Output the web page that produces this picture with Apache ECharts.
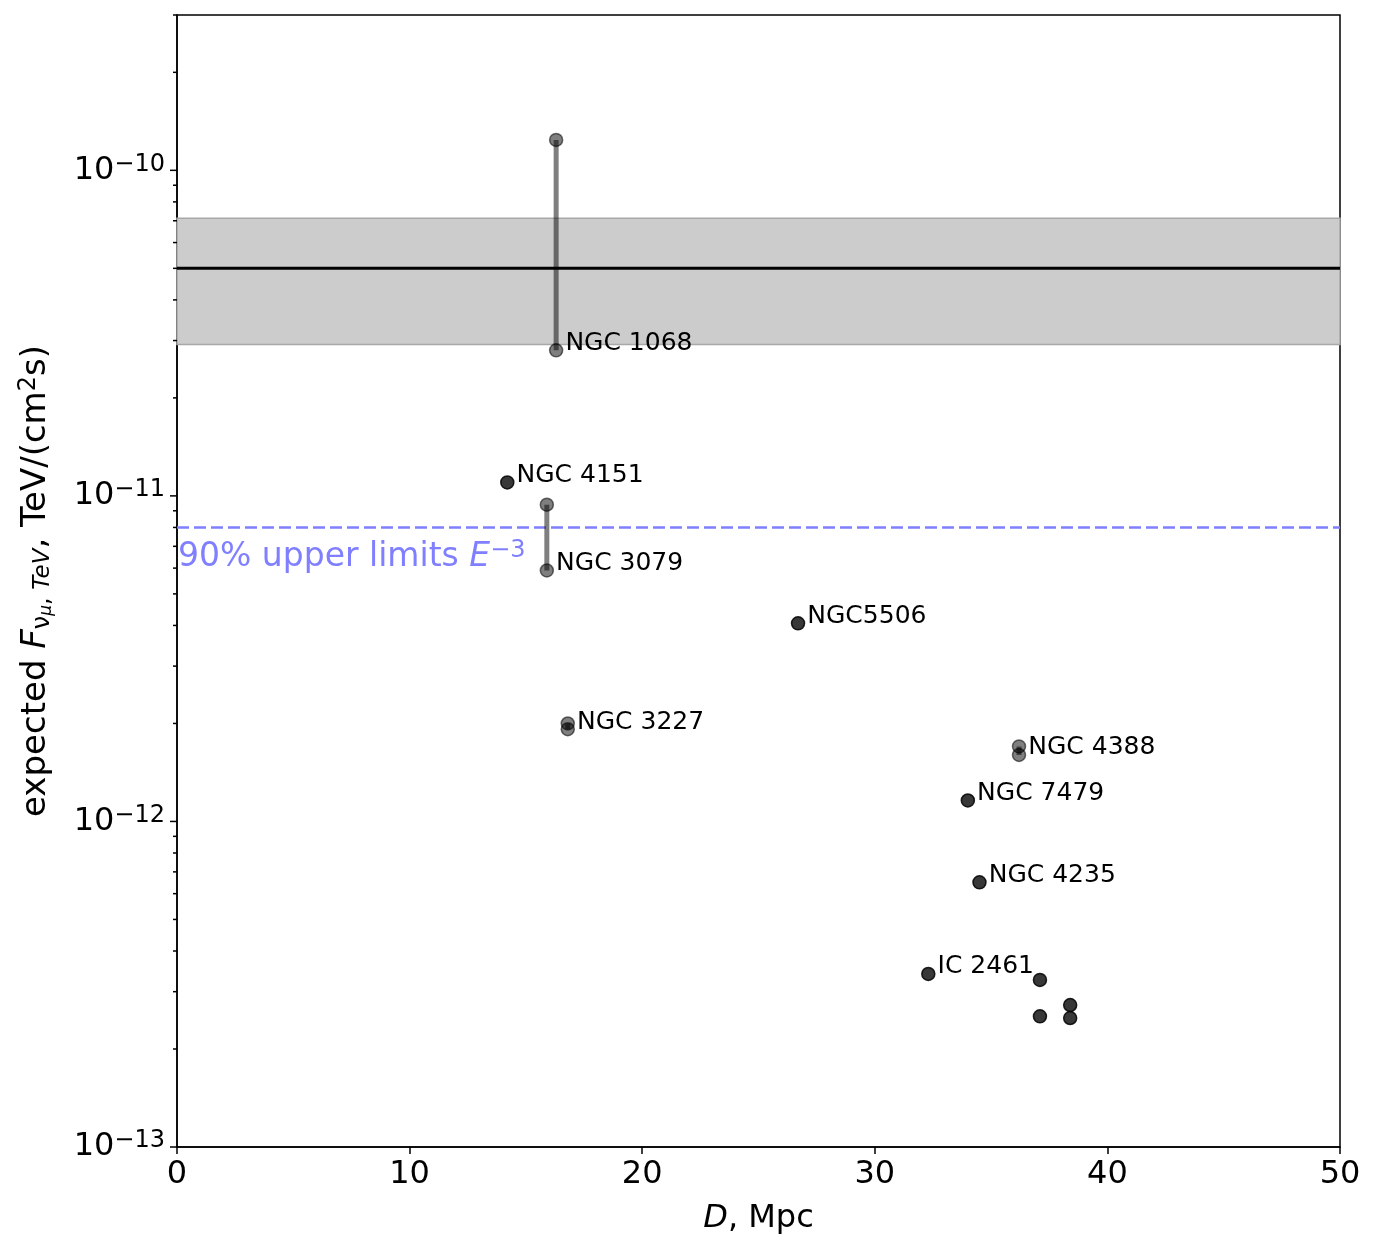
<!DOCTYPE html>
<html>
<head>
<meta charset="utf-8">
<script src="https://cdn.jsdelivr.net/npm/echarts/dist/echarts.min.js"></script>
<style>
html, body { margin: 0; padding: 0; background: #fff; }
#chart { width: 1376px; height: 1254px; }
</style>
</head>
<body>
<div id="chart"></div>
<script>
// sources with two flux estimates (high / low), joined by a bar
var rangeNames = ['NGC 1068', 'NGC 3079', 'NGC 3227', 'NGC 4388'];
var rangeDist = [16.3, 15.9, 16.8, 36.2];
var rangeHigh = [1.24e-10, 9.4e-12, 2.0e-12, 1.70e-12];
var rangeLow = [2.8e-11, 5.9e-12, 1.92e-12, 1.60e-12];

// sources with a single estimate
var singleNames = ['NGC 4151', 'NGC5506', 'NGC 7479', 'NGC 4235', 'IC 2461', '', '', '', ''];
var singleDist = [14.2, 26.7, 34.0, 34.5, 32.3, 37.1, 37.1, 38.4, 38.4];
var singleFlux = [1.10e-11, 4.06e-12, 1.16e-12, 6.5e-13, 3.4e-13, 3.26e-13, 2.52e-13, 2.73e-13, 2.49e-13];

// measured flux band and upper limit
var bandLow = 2.92e-11;
var bandMid = 5.0e-11;
var bandHigh = 7.12e-11;
var upperLimit = 8.0e-12;

// axis ranges / ticks
var xMin = 0, xMax = 50, xStep = 10;
var yMin = 1e-13, yMax = 3e-10;
var yDecades = [-13, -12, -11, -10];

var FONT = 'DejaVu Sans';

// y ticks (major at decades, minor at 2..9)
var yTickData = [];
yDecades.forEach(function (k) {
  for (var m = 1; m <= 9; m++) {
    var v = m * Math.pow(10, k);
    if (v <= yMax * 1.0001) yTickData.push([0, v, m === 1 ? 7 : 4]);
  }
});

var segments = [];
for (var i = 0; i < rangeNames.length; i++) {
  segments.push([rangeDist[i], rangeHigh[i]], [rangeDist[i], rangeLow[i]], '-');
}

var rangePts = [];
for (var i = 0; i < rangeNames.length; i++) {
  rangePts.push({value: [rangeDist[i], rangeHigh[i]]});
  rangePts.push({value: [rangeDist[i], rangeLow[i]], name: rangeNames[i], label: {show: true}});
}
var singlePts = [];
for (var i = 0; i < singleNames.length; i++) {
  var item = {value: [singleDist[i], singleFlux[i]]};
  if (singleNames[i]) { item.name = singleNames[i]; item.label = {show: true}; }
  singlePts.push(item);
}

var pointLabel = {
  show: false,
  position: 'right',
  distance: 2,
  offset: [0, -7],
  formatter: '{b}',
  color: '#000',
  fontSize: 25,
  fontFamily: FONT
};

var BLUE = '#7f7fff';

var myChart = echarts.init(document.getElementById('chart'));
var option = {
  backgroundColor: '#fff',
  animation: false,
  grid: {
    left: 177, right: 36, top: 15, bottom: 107,
    show: true, borderColor: '#000', borderWidth: 1.5, backgroundColor: 'transparent'
  },
  xAxis: {
    type: 'value',
    min: xMin, max: xMax, interval: xStep,
    name: '{i|D}, Mpc',
    nameLocation: 'middle',
    nameGap: 56,
    nameTextStyle: {
      color: '#000', fontSize: 32, fontFamily: FONT,
      rich: {i: {fontStyle: 'italic', fontSize: 32, fontFamily: FONT, color: '#000'}}
    },
    axisLine: {show: true, lineStyle: {color: '#000', width: 1.5}},
    axisTick: {show: true, length: 7, lineStyle: {color: '#000', width: 1.5}},
    axisLabel: {color: '#000', fontSize: 32, fontFamily: FONT, margin: 12},
    splitLine: {show: false}
  },
  yAxis: {
    type: 'log',
    logBase: 10,
    min: yMin, max: yMax,
    name: '{t|expected }{i|F}{sub|ν}{ss|μ}{sub|, }{si|TeV}{t|, TeV/(cm}{sup|2}{t|s)}',
    nameLocation: 'middle',
    nameRotate: 90,
    nameGap: 122,
    nameTextStyle: {
      color: '#000', fontSize: 34, fontFamily: FONT,
      rich: {
        t: {fontSize: 34, fontFamily: FONT, color: '#000', lineHeight: 38},
        i: {fontSize: 34, fontFamily: FONT, color: '#000', fontStyle: 'italic', lineHeight: 38},
        sub: {fontSize: 24, fontFamily: FONT, color: '#000', lineHeight: 22, verticalAlign: 'bottom'},
        ss: {fontSize: 17, fontFamily: FONT, color: '#000', fontStyle: 'italic', lineHeight: 14, verticalAlign: 'bottom'},
        si: {fontSize: 23, fontFamily: FONT, color: '#000', fontStyle: 'italic', lineHeight: 20, verticalAlign: 'bottom'},
        sup: {fontSize: 24, fontFamily: FONT, color: '#000', lineHeight: 20, verticalAlign: 'top'}
      }
    },
    axisLine: {show: true, lineStyle: {color: '#000', width: 1.5}},
    axisTick: {show: false},
    minorTick: {show: false},
    splitLine: {show: false},
    axisLabel: {
      margin: 12,
      showMaxLabel: false,
      formatter: function (v) {
        var lg = Math.log10(v);
        var k = Math.round(lg);
        if (Math.abs(lg - k) > 1e-6) return '';
        return '{b|10}{s|\u2212' + (-k) + '}';
      },
      rich: {
        b: {fontSize: 32, fontFamily: FONT, color: '#000', lineHeight: 36},
        s: {fontSize: 24, fontFamily: FONT, color: '#000', lineHeight: 18, verticalAlign: 'top'}
      }
    }
  },
  series: [
    {
      // measured band (host series for the markArea)
      type: 'line',
      data: [[xMin, bandMid]],
      showSymbol: false,
      symbol: 'none',
      z: 1,
      silent: true,
      markArea: {
        silent: true,
        itemStyle: {color: '#cccccc', borderColor: '#a8a8a8', borderWidth: 1.5},
        data: [[{yAxis: bandLow}, {yAxis: bandHigh}]]
      }
    },
    {
      // mean of the band
      type: 'line',
      data: [[xMin, bandMid], [xMax, bandMid]],
      symbol: 'none',
      z: 2,
      silent: true,
      lineStyle: {color: '#000', width: 3}
    },
    {
      // 90% upper limit
      type: 'line',
      data: [[xMin, upperLimit], [xMax, upperLimit]],
      symbol: 'none',
      z: 2,
      silent: true,
      lineStyle: {color: BLUE, width: 2.5, type: [12, 5]}
    },
    {
      // text under the upper limit line
      type: 'scatter',
      data: [[xMin, upperLimit]],
      symbolSize: 0,
      z: 2,
      silent: true,
      itemStyle: {color: BLUE, opacity: 1},
      label: {
        show: true,
        position: 'right',
        distance: 0,
        offset: [1, 30],
        color: BLUE,
        opacity: 1,
        textBorderWidth: 0,
        formatter: '{t|90% upper limits }{i|E}{s|\u22123}',
        rich: {
          t: {fontSize: 33, fontFamily: FONT, color: BLUE, lineHeight: 38},
          i: {fontSize: 33, fontFamily: FONT, color: BLUE, fontStyle: 'italic', lineHeight: 38},
          s: {fontSize: 24, fontFamily: FONT, color: BLUE, lineHeight: 18, verticalAlign: 'top'}
        }
      }
    },
    {
      // bars joining high/low estimates
      type: 'line',
      data: segments,
      z: 3,
      silent: true,
      showSymbol: false,
      connectNulls: false,
      lineStyle: {color: 'rgba(0,0,0,0.5)', width: 5}
    },
    {
      type: 'scatter',
      data: rangePts,
      z: 4,
      symbolSize: 13,
      itemStyle: {color: 'rgba(0,0,0,0.5)', borderColor: 'rgba(0,0,0,0.55)', borderWidth: 1.5, opacity: 1},
      label: pointLabel
    },
    {
      type: 'scatter',
      data: singlePts,
      z: 4,
      symbolSize: 13,
      itemStyle: {color: 'rgba(0,0,0,0.78)', borderColor: 'rgba(0,0,0,0.85)', borderWidth: 1.5, opacity: 1},
      label: pointLabel
    },
    {
      // log-axis ticks (major + minor)
      type: 'custom',
      data: yTickData,
      z: 5,
      silent: true,
      clip: false,
      renderItem: function (params, api) {
        var p = api.coord([0, api.value(1)]);
        var len = api.value(2);
        return {
          type: 'line',
          shape: {x1: p[0] - len, y1: p[1], x2: p[0], y2: p[1]},
          style: {stroke: '#000', lineWidth: 1.5}
        };
      }
    }
  ]
};
myChart.setOption(option);
window.addEventListener("resize", function () {
  myChart.resize();
});
</script>
</body>
</html>
